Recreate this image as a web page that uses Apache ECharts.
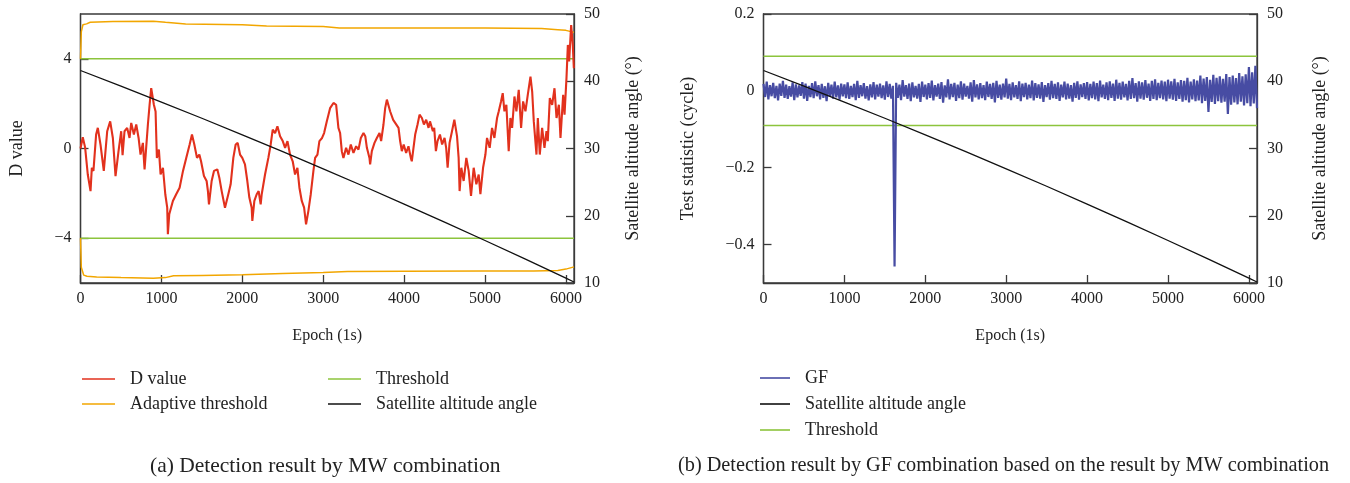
<!DOCTYPE html>
<html>
<head>
<meta charset="utf-8">
<script src="https://cdn.jsdelivr.net/npm/echarts@6/dist/echarts.min.js"></script>
<style>
html,body{margin:0;padding:0;background:#fff;}
#chart{width:1350px;height:483px;}
</style>
</head>
<body>
<div id="chart"></div>
<script>
// ---------- data ----------
const dEpoch = [0,28,57,90,124,140,160,193,214,247,288,330,367,400,433,470,503,520,544,577,606,627,660,689,718,742,771,792,812,833,854,874,907,928,944,969,990,1019,1048,1072,1080,1097,1142,1183,1225,1267,1307,1349,1378,1407,1440,1469,1490,1510,1526,1559,1575,1588,1621,1650,1691,1716,1745,1786,1827,1856,1889,1918,1943,1972,2000,2033,2062,2087,2116,2124,2149,2178,2202,2227,2240,2281,2322,2351,2376,2405,2434,2467,2500,2529,2558,2590,2623,2652,2681,2706,2735,2764,2788,2817,2846,2879,2900,2929,2953,2986,3011,3044,3065,3085,3127,3160,3188,3209,3230,3250,3283,3312,3341,3374,3407,3436,3465,3498,3520,3540,3572,3580,3601,3634,3663,3696,3716,3745,3766,3787,3808,3828,3845,3865,3885,3931,3951,3972,3995,4025,4054,4083,4095,4116,4137,4166,4191,4220,4245,4273,4302,4320,4356,4372,4393,4413,4443,4470,4500,4520,4538,4562,4592,4621,4654,4674,4686,4707,4736,4769,4798,4827,4860,4893,4922,4943,4976,5005,5025,5058,5087,5116,5149,5170,5198,5219,5240,5264,5293,5314,5335,5364,5388,5417,5446,5471,5500,5529,5562,5583,5603,5636,5653,5677,5706,5735,5760,5776,5801,5830,5859,5884,5913,5933,5966,5983,6007,6024,6040,6065,6085,6098];
const dValue = [0.0,0.5,0.05,-1.16,-1.9,-0.86,-1.0,0.62,0.92,0.18,-1.0,0.77,1.21,0.47,-1.23,-0.12,0.77,-0.3,0.77,0.92,0.47,1.14,0.62,1.07,0.47,-0.27,0.25,-0.93,0.05,1.07,1.95,2.69,1.95,1.65,-0.42,-0.05,-1.16,-0.86,-2.04,-2.64,-3.82,-2.93,-2.34,-2.04,-1.75,-1.0,-0.42,0.18,0.62,0.18,-0.42,-0.27,-0.57,-0.5,-1.23,-1.45,-1.9,-2.49,-1.45,-1.0,-0.93,-1.3,-1.9,-2.64,-2.04,-1.6,-0.42,0.18,0.25,-0.27,-0.42,-0.71,-1.45,-2.19,-2.64,-3.23,-2.34,-2.04,-1.9,-2.49,-2.04,-1.16,-0.42,0.18,0.84,0.69,0.99,0.55,0.33,0.03,0.33,-0.27,-0.57,-1.16,-0.86,-1.75,-2.34,-2.64,-3.38,-2.78,-2.04,-1.0,-0.42,-0.27,0.33,0.47,0.69,1.2,1.51,1.8,2.03,1.95,0.92,0.69,-0.12,-0.42,0.03,-0.27,0.18,-0.2,0.1,-0.05,0.47,0.69,0.55,0.03,-0.42,-0.71,-0.12,0.25,0.47,0.69,0.33,1.07,1.8,2.18,2.25,1.65,1.73,1.28,1.36,0.92,0.33,-0.12,0.18,-0.2,0.1,-0.42,-0.57,0.03,0.62,1.07,1.51,1.36,1.07,1.28,0.92,1.21,0.77,0.92,-0.12,0.33,0.62,0.18,0.47,0.03,-0.86,0.25,0.77,1.29,0.55,-0.42,-1.9,-0.86,-1.45,-0.42,-1.0,-2.12,-0.86,-1.6,-1.16,-2.04,-0.86,-0.27,0.47,0.03,0.92,0.47,1.36,1.66,2.1,2.47,1.66,1.95,-0.12,1.36,0.92,2.32,1.66,2.62,0.92,2.1,1.66,2.4,3.21,2.54,1.21,-0.27,1.36,-0.27,0.92,0.03,0.77,0.33,2.25,1.95,2.69,1.36,1.95,0.47,2.4,1.51,3.14,4.62,3.88,5.51,4.62,3.58];

const adaptUpEpoch  = [0,10,30,75,120,400,900,1050,1300,2000,2300,3000,3200,4000,5000,5700,5900,6000,6100];
const adaptUpValue  = [4.0,5.2,5.52,5.56,5.63,5.66,5.68,5.63,5.55,5.52,5.47,5.44,5.38,5.37,5.37,5.35,5.3,5.27,5.18];
const adaptLowEpoch = [0,10,40,80,200,500,900,1050,1150,1500,2000,2500,3000,3300,4000,5000,5600,5900,6000,6100];
const adaptLowValue = [-4.0,-5.3,-5.65,-5.7,-5.73,-5.76,-5.79,-5.76,-5.68,-5.66,-5.63,-5.58,-5.53,-5.49,-5.48,-5.47,-5.46,-5.44,-5.38,-5.28];

const mwThreshold = [4, -4];
const gfThreshold = [0.09, -0.09];

const altEpoch = [0,500,1000,1500,2000,2500,3000,3500,4000,4500,5000,5500,6000,6100];
const altValue = [41.6,39.28,36.91,34.5,32.04,29.53,26.98,24.39,21.74,19.06,16.32,13.55,10.72,10.15];

// GF band: upper / lower envelope, one pair every GF_STEP epochs
const GF_STEP = 40;
const gfUpper = [0.018,0.024,0.015,0.021,0.013,0.019,0.026,0.016,0.012,0.022,0.017,0.014,0.023,0.019,0.013,0.02,0.025,0.015,0.018,0.012,0.021,0.016,0.024,0.014,0.019,0.017,
 0.022,0.013,0.018,0.026,0.015,0.02,0.012,0.017,0.023,0.016,0.019,0.014,0.025,0.018,0.013,0.021,0.016,0.028,0.015,0.019,0.022,0.013,0.018,0.024,0.016,
 0.02,0.027,0.015,0.019,0.023,0.014,0.03,0.018,0.021,0.016,0.025,0.019,0.013,0.022,0.028,0.017,0.02,0.015,0.024,0.018,0.021,0.026,0.016,0.019,0.032,
 0.018,0.022,0.015,0.025,0.019,0.021,0.016,0.027,0.02,0.017,0.023,0.015,0.02,0.026,0.018,0.022,0.016,0.024,0.019,0.015,0.021,0.025,0.017,0.02,0.023,
 0.018,0.024,0.02,0.027,0.016,0.022,0.025,0.019,0.029,0.021,0.024,0.018,0.026,0.033,0.02,0.025,0.022,0.028,0.019,0.026,0.03,0.021,0.027,0.024,0.029,
 0.025,0.031,0.022,0.028,0.026,0.034,0.024,0.03,0.027,0.04,0.032,0.036,0.029,0.042,0.034,0.038,0.031,0.044,0.036,0.04,0.033,0.046,0.038,0.043,0.062,0.048,0.065];
const gfLower = [-0.016,-0.022,-0.014,-0.019,-0.025,-0.013,-0.018,-0.021,-0.015,-0.024,-0.017,-0.013,-0.02,-0.026,-0.016,-0.019,-0.014,-0.022,-0.018,-0.027,-0.015,-0.02,-0.017,-0.023,-0.014,-0.019,
 -0.021,-0.016,-0.024,-0.018,-0.014,-0.02,-0.025,-0.017,-0.022,-0.015,-0.019,-0.023,-0.016,-0.02,-0.457,-0.018,-0.024,-0.015,-0.021,-0.027,-0.017,-0.02,-0.029,-0.016,-0.022,
 -0.018,-0.025,-0.015,-0.021,-0.031,-0.017,-0.022,-0.016,-0.026,-0.019,-0.023,-0.015,-0.02,-0.028,-0.017,-0.022,-0.019,-0.024,-0.016,-0.021,-0.03,-0.018,-0.023,-0.017,-0.02,
 -0.024,-0.017,-0.021,-0.027,-0.016,-0.022,-0.019,-0.025,-0.018,-0.02,-0.029,-0.016,-0.023,-0.019,-0.021,-0.026,-0.017,-0.022,-0.02,-0.028,-0.018,-0.023,-0.016,-0.021,-0.025,
 -0.019,-0.022,-0.027,-0.017,-0.021,-0.024,-0.018,-0.026,-0.02,-0.023,-0.017,-0.025,-0.021,-0.019,-0.028,-0.02,-0.023,-0.018,-0.026,-0.021,-0.024,-0.019,-0.022,-0.027,-0.02,
 -0.023,-0.026,-0.021,-0.028,-0.024,-0.03,-0.022,-0.027,-0.025,-0.032,-0.026,-0.055,-0.029,-0.034,-0.027,-0.031,-0.028,-0.06,-0.036,-0.03,-0.035,-0.028,-0.038,-0.032,-0.04,-0.033,-0.045];

const xTicks = [0,1000,2000,3000,4000,5000,6000];
const mwTicks = [-4,0,4];
const gfTicks = [-0.4,-0.2,0,0.2];
const altTicks = [10,20,30,40,50];

// ---------- build ----------
const pair = (xs, ys) => xs.map((x, i) => [x, ys[i]]);
const gfData = [];
gfUpper.forEach((u, i) => {
  gfData.push([i * GF_STEP, u]);
  gfData.push([i * GF_STEP + GF_STEP / 2, gfLower[i]]);
});
const X_MAX = 6100;

const FONT = '"Liberation Serif", "DejaVu Serif", serif';
const TXT = '#222';
const AX = '#3a3a3a';
const C = {red:'#e2311d', orange:'#f2a600', green:'#8cc43c', black:'#111111', blue:'#474ca3'};
const minus = v => String(v).replace('-', '\u2212');
const plain = v => String(v);

function xAxis(grid) {
  return {
    type:'value', gridIndex:grid, min:0, max:X_MAX, interval:1000,
    name:'Epoch (1s)', nameLocation:'middle', nameGap:45,
    nameTextStyle:{fontFamily:FONT, fontSize:16, color:TXT},
    axisLine:{show:true, onZero:false, lineStyle:{color:AX, width:1.3}},
    axisTick:{show:true, inside:true, length:8, customValues:xTicks, lineStyle:{color:AX, width:1.3}},
    axisLabel:{customValues:xTicks, fontFamily:FONT, fontSize:16, color:TXT, margin:8, formatter:plain},
    splitLine:{show:false}
  };
}
function yAxis(grid, pos, min, max, ticks, name, gap, fmt) {
  return {
    type:'value', gridIndex:grid, position:pos, min:min, max:max,
    name:name, nameLocation:'middle', nameGap:gap, nameRotate:90,
    nameTextStyle:{fontFamily:FONT, fontSize:18, color:TXT},
    axisLine:{show:true, onZero:false, lineStyle:{color:AX, width:1.3}},
    axisTick:{show:true, inside:true, length:8, customValues:ticks, lineStyle:{color:AX, width:1.3}},
    axisLabel:{customValues:ticks, fontFamily:FONT, fontSize:16, color:TXT, margin:pos==='left'?9:10, formatter:fmt},
    splitLine:{show:false}
  };
}
function line(name, data, color, xi, yi, width, z) {
  return {type:'line', name:name, data:data, xAxisIndex:xi, yAxisIndex:yi, showSymbol:false, symbol:'none',
    lineStyle:{color:color, width:width}, itemStyle:{color:color}, z:z, silent:true, animation:false};
}

const legendText = {fontFamily:FONT, fontSize:18, color:TXT, padding:[0,0,0,10], lineHeight:18};
const option = {
  animation:false,
  backgroundColor:'#fff',
  title:[
    {text:'(a) Detection result by MW combination', left:150, top:455, textStyle:{fontFamily:FONT, fontSize:21.5, fontWeight:'normal', color:TXT}, padding:0},
    {text:'(b) Detection result by GF combination based on the result by MW combination', left:678, top:456, textStyle:{fontFamily:FONT, fontSize:20.3, fontWeight:'normal', color:TXT}, padding:0}
  ],
  legend:[
    {data:['D value','Adaptive threshold'], orient:'vertical', left:82, top:370, itemWidth:33, itemHeight:1.6, itemGap:7, icon:'rect', textStyle:legendText, padding:0, selectedMode:false},
    {data:['Threshold','Satellite altitude angle'], orient:'vertical', left:328, top:370, itemWidth:33, itemHeight:1.6, itemGap:7, icon:'rect', textStyle:legendText, padding:0, selectedMode:false},
    {data:['GF','Satellite altitude angle','Threshold'], orient:'vertical', left:760, top:369, itemWidth:30, itemHeight:1.6, itemGap:8, icon:'rect', textStyle:legendText, padding:0, selectedMode:false}
  ],
  grid:[
    {left:80.5, top:14, width:493.5, height:269, show:true, borderColor:AX, borderWidth:1.3, containLabel:false},
    {left:763.5, top:14, width:493.5, height:269, show:true, borderColor:AX, borderWidth:1.3, containLabel:false}
  ],
  xAxis:[xAxis(0), xAxis(1)],
  yAxis:[
    yAxis(0,'left',-6,6,mwTicks,'D value',54,minus),
    yAxis(0,'right',10,50,altTicks,'Satellite altitude angle (\u00B0)',50,null),
    yAxis(1,'left',-0.5,0.2,gfTicks,'Test statistic (cycle)',66,minus),
    yAxis(1,'right',10,50,altTicks,'Satellite altitude angle (\u00B0)',54,null)
  ],
  series:[
    line('Threshold', [[0,mwThreshold[0]],[X_MAX,mwThreshold[0]]], C.green, 0, 0, 1.5, 2),
    line('Threshold', [[0,mwThreshold[1]],[X_MAX,mwThreshold[1]]], C.green, 0, 0, 1.5, 2),
    line('Adaptive threshold', pair(adaptUpEpoch, adaptUpValue), C.orange, 0, 0, 1.5, 3),
    line('Adaptive threshold', pair(adaptLowEpoch, adaptLowValue), C.orange, 0, 0, 1.5, 3),
    line('D value', pair(dEpoch, dValue), C.red, 0, 0, 2.1, 4),
    line('Satellite altitude angle', pair(altEpoch, altValue), C.black, 0, 1, 1.3, 5),
    line('GF', gfData, C.blue, 1, 2, 2.2, 3),
    line('Threshold', [[0,gfThreshold[0]],[X_MAX,gfThreshold[0]]], C.green, 1, 2, 1.5, 2),
    line('Threshold', [[0,gfThreshold[1]],[X_MAX,gfThreshold[1]]], C.green, 1, 2, 1.5, 2),
    line('Satellite altitude angle', pair(altEpoch, altValue), C.black, 1, 3, 1.3, 5)
  ]
};
const chart = echarts.init(document.getElementById('chart'), null, {renderer:'canvas'});
chart.setOption(option);
</script>
</body>
</html>
